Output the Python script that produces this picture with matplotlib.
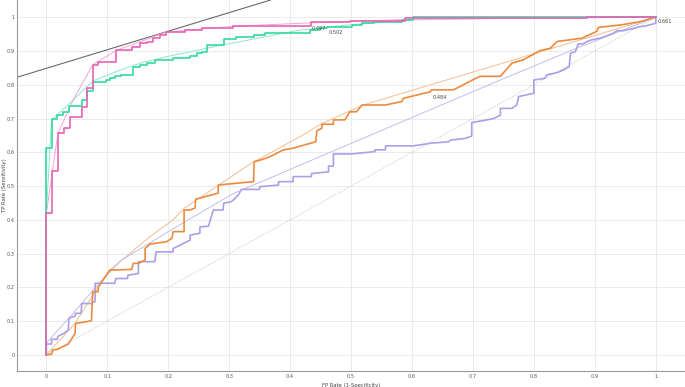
import matplotlib
matplotlib.use('Agg')
import matplotlib.pyplot as plt

# ROC step curves (FP rate, TP rate)
pink_fpr = [0, 0, 0.010, 0.010, 0.019, 0.019, 0.029, 0.029, 0.038, 0.038, 0.058, 0.058,
            0.066, 0.066, 0.076, 0.076, 0.085, 0.085, 0.115, 0.115, 0.140, 0.140, 0.153,
            0.153, 0.165, 0.165, 0.175, 0.175, 0.186, 0.186, 0.197, 0.197, 0.227, 0.227,
            0.255, 0.255, 0.307, 0.307, 0.435, 0.435, 0.498, 0.498, 0.589, 0.589, 0.887,
            0.887, 1.0]
pink_tpr = [0, 0.419, 0.419, 0.545, 0.545, 0.656, 0.656, 0.671, 0.671, 0.705, 0.705, 0.735,
            0.735, 0.790, 0.790, 0.859, 0.859, 0.868, 0.868, 0.903, 0.903, 0.913, 0.913,
            0.923, 0.923, 0.928, 0.928, 0.938, 0.938, 0.946, 0.946, 0.957, 0.957, 0.962,
            0.962, 0.967, 0.967, 0.975, 0.975, 0.987, 0.987, 0.990, 0.990, 0.997, 0.997,
            1.0, 1.0]

green_fpr = [0, 0, 0.010, 0.010, 0.018, 0.018, 0.028, 0.028, 0.037, 0.037, 0.058, 0.058,
             0.066, 0.066, 0.077, 0.077, 0.098, 0.098, 0.104, 0.104, 0.112, 0.112, 0.122,
             0.122, 0.1415, 0.1415, 0.154, 0.154, 0.165, 0.165, 0.178, 0.178, 0.207, 0.207,
             0.235, 0.235, 0.247, 0.247, 0.255, 0.255, 0.264, 0.264, 0.291, 0.291, 0.312,
             0.312, 0.340, 0.340, 0.359, 0.359, 0.433, 0.433, 0.449, 0.449, 0.46, 0.46,
             0.501, 0.501, 0.518, 0.518, 0.537, 0.537, 0.583, 0.583, 0.602, 0.602, 1.0]
green_tpr = [0, 0.612, 0.612, 0.699, 0.699, 0.710, 0.710, 0.720, 0.720, 0.737, 0.737, 0.755,
             0.755, 0.780, 0.780, 0.809, 0.809, 0.814, 0.814, 0.819, 0.819, 0.826, 0.826,
             0.829, 0.829, 0.853, 0.853, 0.858, 0.858, 0.864, 0.864, 0.874, 0.874, 0.879,
             0.879, 0.886, 0.886, 0.893, 0.893, 0.898, 0.898, 0.918, 0.918, 0.935, 0.935,
             0.940, 0.940, 0.948, 0.948, 0.952, 0.952, 0.962, 0.962, 0.967, 0.967, 0.972,
             0.972, 0.977, 0.977, 0.982, 0.982, 0.986, 0.986, 0.992, 0.992, 1.0, 1.0]

orange_fpr = [0, 0.0085, 0.010, 0.019, 0.036, 0.047, 0.048, 0.065, 0.074, 0.076, 0.085,
              0.085, 0.104, 0.140, 0.1425, 0.151, 0.162, 0.162, 0.170, 0.197, 0.206, 0.208,
              0.226, 0.226, 0.236, 0.244, 0.245, 0.282, 0.282, 0.340, 0.341, 0.355, 0.367,
              0.389, 0.405, 0.424, 0.442, 0.444, 0.452, 0.452, 0.471, 0.471, 0.490, 0.498,
              0.509, 0.518, 0.556, 0.583, 0.586, 0.630, 0.632, 0.668, 0.706, 0.712, 0.745,
              0.764, 0.783, 0.810, 0.827, 0.838, 0.879, 0.903, 0.906, 0.942, 0.975, 1.0]
orange_tpr = [0, 0.002, 0.014, 0.017, 0.032, 0.063, 0.093, 0.098, 0.101, 0.187, 0.187,
              0.200, 0.251, 0.253, 0.271, 0.271, 0.281, 0.315, 0.328, 0.335, 0.345, 0.365,
              0.365, 0.429, 0.429, 0.435, 0.461, 0.479, 0.503, 0.513, 0.572, 0.579, 0.587,
              0.607, 0.612, 0.622, 0.631, 0.664, 0.671, 0.683, 0.683, 0.696, 0.696, 0.720,
              0.720, 0.740, 0.740, 0.750, 0.760, 0.779, 0.785, 0.785, 0.820, 0.825, 0.825,
              0.864, 0.874, 0.901, 0.908, 0.928, 0.938, 0.958, 0.970, 0.977, 0.987, 1.0]

purple_fpr = [0, 0, 0.0085, 0.0085, 0.018, 0.019, 0.028, 0.036, 0.037, 0.047, 0.048, 0.057,
              0.058, 0.074, 0.076, 0.080, 0.080, 0.112, 0.114, 0.133, 0.134, 0.151, 0.151,
              0.178, 0.180, 0.208, 0.208, 0.216, 0.225, 0.236, 0.236, 0.252, 0.252, 0.266,
              0.274, 0.290, 0.291, 0.304, 0.315, 0.320, 0.350, 0.350, 0.381, 0.381, 0.405,
              0.405, 0.435, 0.435, 0.463, 0.463, 0.471, 0.471, 0.501, 0.539, 0.539, 0.556,
              0.557, 0.602, 0.632, 0.660, 0.663, 0.687, 0.698, 0.698, 0.717, 0.734, 0.745,
              0.745, 0.764, 0.772, 0.775, 0.788, 0.800, 0.800, 0.818, 0.821, 0.838, 0.849,
              0.858, 0.860, 0.868, 0.873, 0.881, 0.887, 0.895, 0.909, 0.917, 0.931, 0.936,
              0.947, 0.964, 0.974, 0.983, 1.0, 1.0]
purple_tpr = [0, 0.032, 0.032, 0.046, 0.046, 0.055, 0.063, 0.073, 0.108, 0.115, 0.123, 0.123,
              0.152, 0.152, 0.157, 0.157, 0.212, 0.212, 0.226, 0.226, 0.236, 0.241, 0.276,
              0.276, 0.305, 0.305, 0.315, 0.322, 0.330, 0.340, 0.355, 0.360, 0.379, 0.381,
              0.429, 0.429, 0.449, 0.454, 0.473, 0.490, 0.490, 0.498, 0.503, 0.513, 0.513,
              0.528, 0.528, 0.537, 0.542, 0.559, 0.559, 0.595, 0.595, 0.602, 0.607, 0.607,
              0.619, 0.619, 0.627, 0.631, 0.636, 0.641, 0.648, 0.688, 0.694, 0.700, 0.710,
              0.730, 0.730, 0.740, 0.765, 0.770, 0.775, 0.814, 0.819, 0.829, 0.836, 0.844,
              0.854, 0.893, 0.898, 0.921, 0.921, 0.928, 0.933, 0.938, 0.943, 0.953, 0.960,
              0.960, 0.967, 0.972, 0.974, 0.982, 1.0]

# smoothed (fitted) curves drawn as thin lines
pink_fit_fpr = [0, 0, 0.010, 0.019, 0.044, 0.076, 0.115, 0.197, 0.307, 0.416, 0.6, 1.0]
pink_fit_tpr = [0, 0.419, 0.545, 0.656, 0.755, 0.859, 0.902, 0.956, 0.973, 0.982, 0.994, 1.0]

green_fit_fpr = [0, 0, 0.0085, 0.044, 0.077, 0.115, 0.154, 0.197, 0.290, 0.416, 0.5, 0.6, 0.8, 1.0]
green_fit_tpr = [0, 0.42, 0.696, 0.755, 0.812, 0.839, 0.864, 0.883, 0.918, 0.962, 0.978, 0.992, 0.998, 1.0]

orange_fit_fpr = [0, 0.047, 0.080, 0.104, 0.170, 0.208, 0.226, 0.334, 0.416, 0.452, 0.52, 1.0]
orange_fit_tpr = [0, 0.093, 0.187, 0.251, 0.350, 0.400, 0.434, 0.565, 0.646, 0.685, 0.740, 1.0]

purple_fit_fpr = [0, 0.040, 0.088, 0.123, 0.200, 0.307, 0.383, 0.449, 0.600, 0.745, 0.870, 1.0]
purple_fit_tpr = [0.035, 0.115, 0.215, 0.280, 0.365, 0.478, 0.536, 0.587, 0.703, 0.814, 0.908, 1.0]

chance = [0, 1]

# iso-performance line touching the pink curve
iso_point = (0.197, 0.957)
iso_slope = 0.55

# threshold labels
labels = ['0.497', '0.502', '0.484', '0.661']
label_x = [0.435, 0.464, 0.634, 1.003]
label_y = [0.967, 0.955, 0.762, 0.986]

ticks = [0, 0.1, 0.2, 0.3, 0.4, 0.5, 0.6, 0.7, 0.8, 0.9, 1]
tick_labels = ['0', '0.1', '0.2', '0.3', '0.4', '0.5', '0.6', '0.7', '0.8', '0.9', '1']

fig = plt.figure(figsize=(6.85, 3.87), dpi=100)
ax = fig.add_axes([0.0241, 0.0421, 0.9759, 0.9579])
ax.set_xlim(-0.049, 1.048)
ax.set_ylim(-0.047, 1.051)

ax.plot(chance, chance, color='#c4c4c4', lw=0.6, ls=(0, (1.5, 1.5)))
ax.axline(iso_point, slope=iso_slope, color='#6a6a6a', lw=0.8)

ax.plot(orange_fit_fpr, orange_fit_tpr, color='#f3bd8f', lw=0.7)
ax.plot(purple_fit_fpr, purple_fit_tpr, color='#c3bcef', lw=0.7)
ax.plot(green_fit_fpr, green_fit_tpr, color='#93e5c9', lw=0.7)
ax.plot(pink_fit_fpr, pink_fit_tpr, color='#f2a6d6', lw=0.7)

ax.plot(purple_fpr, purple_tpr, color='#ab9fe8', lw=1.2)
ax.plot(orange_fpr, orange_tpr, color='#ec8a3e', lw=1.2)
ax.plot(green_fpr, green_tpr, color='#33d8a2', lw=1.2)
ax.plot(pink_fpr, pink_tpr, color='#e862b6', lw=1.2)

for t, x, y in zip(labels, label_x, label_y):
    ax.text(x, y, t, fontsize=3.6, color='#444444', va='center', ha='left')

ax.set_xticks(ticks)
ax.set_xticklabels(tick_labels)
ax.set_yticks(ticks)
ax.set_yticklabels(tick_labels)
ax.tick_params(length=0, labelsize=3.6, labelcolor='#555555', pad=2.5)
ax.tick_params(axis='y', pad=1.5)
ax.grid(color='#e8e8e8', lw=0.6)
ax.set_axisbelow(True)
for s in ['top', 'right']:
    ax.spines[s].set_visible(False)
for s in ['left', 'bottom']:
    ax.spines[s].set_color('#9a9a9a')
    ax.spines[s].set_linewidth(0.8)

ax.set_xlabel('FP Rate (1-Specificity)', fontsize=3.8, color='#444444', labelpad=3)
ax.set_ylabel('TP Rate (Sensitivity)', fontsize=3.8, color='#444444')
ax.yaxis.set_label_coords(-0.0148, 0.5)

fig.savefig('out.png', dpi=100)
